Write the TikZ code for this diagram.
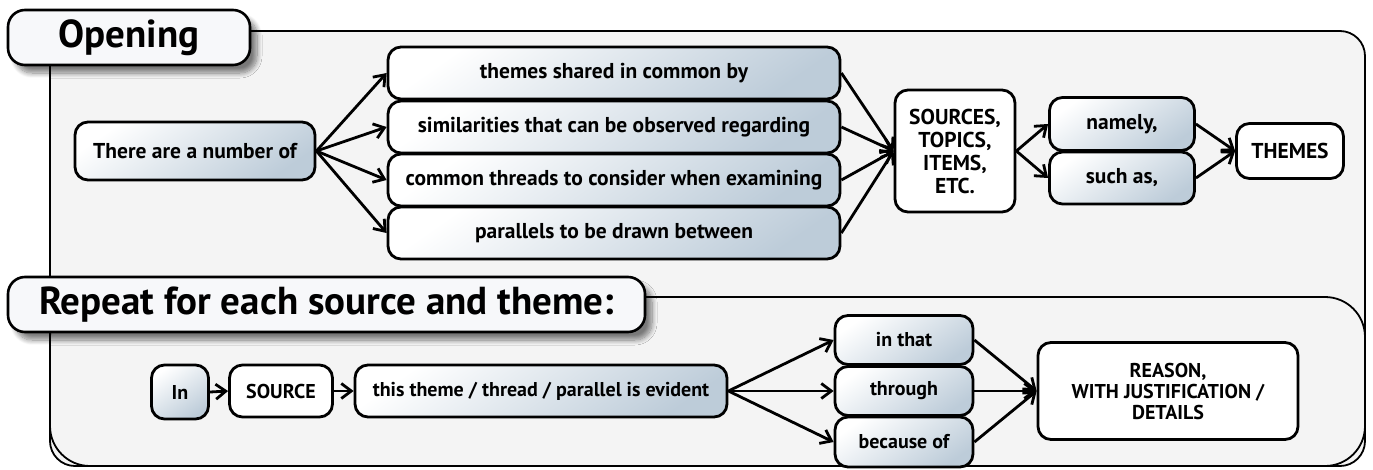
\documentclass[tikz,border=0pt]{standalone}
\usepackage{fontspec}
\setmainfont{PT Sans}
\usetikzlibrary{arrows.meta, positioning, shadows, shadows.blur}

\definecolor{framegray}{HTML}{F4F4F4}
\definecolor{boxblue}{HTML}{BDCCD9}
\definecolor{tabfill}{HTML}{F7F8FA}

\begin{document}
\begin{tikzpicture}[x=1pt, y=-1pt,
    stepbox/.style={draw, line width=2.8pt, rounded corners=13pt, top color=white, bottom color=boxblue, shading angle=35, align=center, inner sep=0pt, font=\fontsize{21.5}{23}\selectfont\bfseries},
    whitebox/.style={draw, line width=2.8pt, rounded corners=13pt, fill=white, align=center, inner sep=0pt, font=\fontsize{21.5}{23}\selectfont\bfseries},
    smalltext/.style={font=\fontsize{20}{21}\selectfont\bfseries},
    tabbox/.style={draw, line width=2.6pt, rounded corners=17pt, fill=tabfill, inner sep=0pt, minimum height=55pt, font=\fontsize{39}{42}\selectfont\bfseries, blur shadow={shadow xshift=7pt, shadow yshift=-8pt, shadow blur steps=10, shadow blur radius=5pt, shadow opacity=50}},
    arr/.style={-{Straight Barb[length=10pt, width=15pt]}, line width=2.8pt}]
    \useasboundingbox (0,0) rectangle (1373,469);

    % Frames
    \draw[line width=1.8pt, fill=framegray, rounded corners=25pt] (50,31) rectangle (1365,466);
    \draw[line width=1.8pt, fill=framegray, rounded corners=40pt] (50,297) rectangle (1365,466);

    % Section tabs
    \node[tabbox, minimum width=242pt] (opening) at (129,37.5) {Opening};
    \node[tabbox, minimum width=637pt] (repeat) at (326.5,304.5) {Repeat for each source and theme:};

    % Opening sentence
    \node[stepbox, minimum width=240pt, minimum height=58pt] (intro) at (195,151) {There are a number of};
    \node[stepbox, minimum width=452pt, minimum height=52pt] (shared) at (614,73) {themes shared in common by};
    \node[stepbox, minimum width=452pt, minimum height=52pt] (similar) at (614,127) {similarities that can be observed regarding};
    \node[stepbox, minimum width=452pt, minimum height=52pt] (threads) at (614,180) {common threads to consider when examining};
    \node[stepbox, minimum width=452pt, minimum height=52pt] (parallels) at (614,233) {parallels to be drawn between};
    \node[whitebox, minimum width=120pt, minimum height=122pt] (sources) at (955,151) {SOURCES,\\TOPICS,\\ITEMS,\\ETC.};
    \node[stepbox, minimum width=145pt, minimum height=53pt] (namely) at (1122,124) {namely,};
    \node[stepbox, minimum width=145pt, minimum height=52pt] (suchas) at (1122,178) {such as,};
    \node[whitebox, minimum width=107pt, minimum height=55pt] (themes) at (1290,151) {THEMES};

    \foreach \b in {shared, similar, threads, parallels}{
        \draw[arr] (intro.east) -- (\b.west);
        \draw[arr] (\b.east) -- (sources.west);
    }
    \foreach \b in {namely, suchas}{
        \draw[arr] (sources.east) -- (\b.west);
        \draw[arr] (\b.east) -- (themes.west);
    }

    % Repeated sentence
    \node[stepbox, smalltext, minimum width=57pt, minimum height=54pt] (in) at (180,392) {In};
    \node[whitebox, smalltext, minimum width=103pt, minimum height=52pt] (source) at (281,391) {SOURCE};
    \node[stepbox, smalltext, minimum width=372pt, minimum height=52pt] (evident) at (541,391) {this theme / thread / parallel is evident};
    \node[stepbox, smalltext, minimum width=138pt, minimum height=49pt] (inthat) at (904,340) {in that};
    \node[stepbox, smalltext, minimum width=138pt, minimum height=49pt] (through) at (904,391) {through};
    \node[stepbox, smalltext, minimum width=138pt, minimum height=50pt] (because) at (904,442) {because of};
    \node[whitebox, smalltext, minimum width=260pt, minimum height=97pt] (reason) at (1168,391) {REASON,\\WITH JUSTIFICATION /\\DETAILS};

    \draw[arr] (in.east) -- (source.west);
    \draw[arr] (source.east) -- (evident.west);
    \foreach \b in {inthat, through, because}{
        \draw[arr] (evident.east) -- (\b.west);
        \draw[arr] (\b.east) -- (reason.west);
    }
\end{tikzpicture}
\end{document}
